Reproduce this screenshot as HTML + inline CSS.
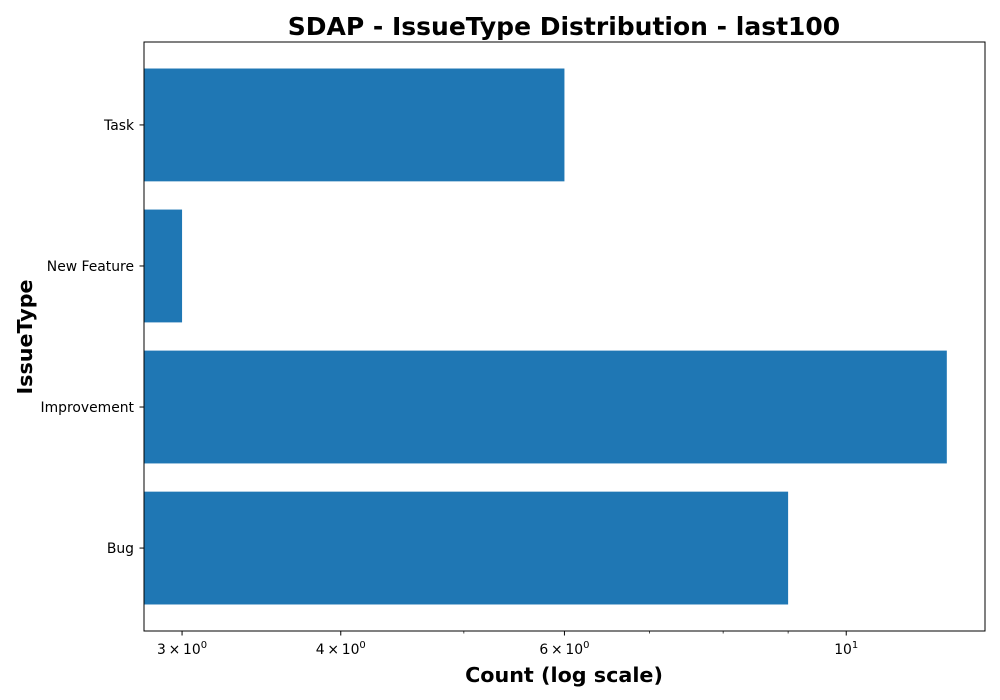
<!DOCTYPE html>
<html><head><meta charset="utf-8"><style>
html,body{margin:0;padding:0;background:#fff;}
svg{display:block;font-family:"DejaVu Sans","Liberation Sans",sans-serif;}
</style></head><body>
<svg id="chart" width="1000" height="700"></svg>
<script>
const categories = ["Bug","Improvement","New Feature","Task"];
const counts = [9, 12, 3, 6];
const majorTicks = [3, 4, 6, 10];
const majorLabels = [["3","0"],["4","0"],["6","0"],["","1"]];
const minorTicks = [5, 7, 8, 9];

const NS = "http://www.w3.org/2000/svg";
const svg = document.getElementById("chart");
const L = 144, R = 985, T = 42, B = 631;
const xMin = 2.80, xMax = 12.86;
function x(v){ return L + (Math.log10(v) - Math.log10(xMin)) / (Math.log10(xMax) - Math.log10(xMin)) * (R - L); }
const n = categories.length;
const pad = 0.088;
const yLo = -0.5 - pad, yHi = n - 0.5 + pad;
const step = (B - T) / (yHi - yLo);
function yc(i){ return B - (i - yLo) * step; }
function mk(tag, attrs, parent){ const e = document.createElementNS(NS, tag); for (const k in attrs) e.setAttribute(k, attrs[k]); (parent||svg).appendChild(e); return e; }

const bars = mk("g", {});


counts.forEach((v, i) => {
  const h = step * 0.8;
  const r = mk("rect", {x: L, y: yc(i) - h/2, width: x(v) - L, height: h, fill: "#1f77b4"}, bars);
  
  
});

const frame = mk("rect", {x: L, y: T, width: R - L, height: B - T, fill: "none", stroke: "#000", "stroke-width": 1});



const yAxis = mk("g", {});


categories.forEach((c, i) => {
  mk("line", {x1: L - 4.5, x2: L, y1: yc(i), y2: yc(i), stroke: "#000"}, yAxis);
  const t = mk("text", {x: L - 10, y: yc(i) + 5, "text-anchor": "end", "font-size": 13.9}, yAxis);
  t.textContent = c;
  
  
});

const xAxis = mk("g", {});


majorTicks.forEach((v, i) => {
  const px = x(v);
  mk("line", {x1: px, x2: px, y1: B, y2: B + 4.5, stroke: "#000"}, xAxis);
  const t = mk("text", {x: px, y: B + 23, "text-anchor": "middle", "font-size": 13.9}, xAxis);
  
  
  const lab = majorLabels[i];
  const s = mk("tspan", {}, t); s.textContent = lab[0] ? lab[0] + "\u2009\u00d7\u200910" : "10";
  const sup = mk("tspan", {dy: -6, "font-size": 10}, t); sup.textContent = lab[1];
});
minorTicks.forEach(v => {
  const px = x(v);
  mk("line", {x1: px, x2: px, y1: B, y2: B + 2.5, stroke: "#000", "stroke-width": 0.7}, xAxis);
});

const title = mk("text", {x: 564, y: 35, "text-anchor": "middle", "font-size": 25, "font-weight": "bold"});
title.textContent = "SDAP - IssueType Distribution - last100";



const xl = mk("text", {x: 564, y: 682, "text-anchor": "middle", "font-size": 20.7, "font-weight": "bold"});
xl.textContent = "Count (log scale)";



const yl = mk("text", {x: 0, y: 0, "text-anchor": "middle", "font-size": 20.7, "font-weight": "bold", transform: "translate(32,337) rotate(-90)"});
yl.textContent = "IssueType";


</script>
</body></html>
